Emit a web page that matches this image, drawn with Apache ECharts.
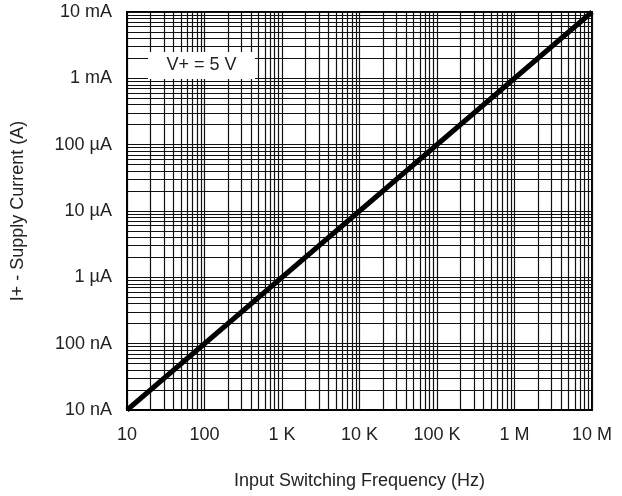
<!DOCTYPE html>
<html lang="en">
<head>
  <meta charset="utf-8">
  <title>Supply Current vs Input Switching Frequency</title>
  <style>html,body{margin:0;padding:0;background:#fff;}</style>
</head>
<body>

<script src="https://cdn.jsdelivr.net/npm/echarts@6.0.0/dist/echarts.min.js"></script>

<div id="currentchart1" style="width:622px;height:496px;"></div>

<script>
  // data (log-log, straight line)
  var freqHz = [10, 10000000];
  var supplyA = [1e-8, 1e-2];

  var xTickLabels = ['10', '100', '1 K', '10 K', '100 K', '1 M', '10 M'];
  var yTickLabels = ['10 nA', '100 nA', '1 µA', '10 µA', '100 µA', '1 mA', '10 mA'];

  var xDecades = [10, 100, 1000, 10000, 100000, 1000000];
  var yDecades = [1e-8, 1e-7, 1e-6, 1e-5, 1e-4, 1e-3];
  var minorSteps = [2, 3, 4, 5, 6, 7, 8, 9];

  var fontName = "'Liberation Sans', Arial, sans-serif";
  var fontSz = 18;

  var xMin = freqHz[0], xMax = freqHz[freqHz.length - 1];
  var yMin = supplyA[0], yMax = supplyA[supplyA.length - 1];

  // minor grid lines (2..9 of each decade), drawn through the axes
  var gridLines = [];
  xDecades.forEach(function (d) {
    minorSteps.forEach(function (m) { gridLines.push({ coords: [[d * m, yMin], [d * m, yMax]] }); });
  });
  yDecades.forEach(function (d) {
    minorSteps.forEach(function (m) { gridLines.push({ coords: [[xMin, d * m], [xMax, d * m]] }); });
  });

  var currentchart1 = echarts.init(document.getElementById('currentchart1'));

  var option = {
    animation: false,
    grid: {
      left: 127,
      right: 30,
      top: 12,
      bottom: 86,
      show: true,
      borderColor: '#000',
      borderWidth: 2
    },
    xAxis: {
      type: 'log',
      logBase: 10,
      min: xMin,
      max: xMax,
      name: 'Input Switching Frequency (Hz)',
      nameLocation: 'middle',
      nameGap: 62,
      nameTextStyle: { fontFamily: fontName, fontSize: fontSz, color: '#222', verticalAlign: 'top' },
      axisLine: { lineStyle: { color: '#000', width: 2 } },
      axisTick: { show: false },
      axisLabel: {
        fontFamily: fontName, fontSize: fontSz, color: '#222', margin: 16,
        formatter: function (v) { return xTickLabels[Math.round(Math.log10(v)) - 1]; }
      },
      splitLine: { show: true, lineStyle: { color: '#111', width: 1.2 } }
    },
    yAxis: {
      type: 'log',
      logBase: 10,
      min: yMin,
      max: yMax,
      name: 'I+ - Supply Current (A)',
      nameLocation: 'middle',
      nameGap: 100,
      nameTextStyle: { fontFamily: fontName, fontSize: fontSz, color: '#222' },
      axisLine: { lineStyle: { color: '#000', width: 2 } },
      axisTick: { show: false },
      axisLabel: {
        fontFamily: fontName, fontSize: fontSz, color: '#222', margin: 15,
        formatter: function (v) { return yTickLabels[Math.round(Math.log10(v)) + 8]; }
      },
      splitLine: { show: true, lineStyle: { color: '#111', width: 1.2 } }
    },
    graphic: [
      {
        type: 'rect', z: 100, zlevel: 1,
        shape: { x: 148, y: 52, width: 107, height: 27 },
        style: { fill: '#fff' }
      },
      {
        type: 'text', z: 101, zlevel: 1, x: 201.5, y: 65.5,
        style: { text: 'V+ = 5 V', fontFamily: fontName, fontSize: fontSz, fill: '#222', align: 'center', verticalAlign: 'middle' }
      }
    ],
    series: [
      {
        name: 'grid',
        type: 'lines',
        coordinateSystem: 'cartesian2d',
        silent: true,
        z: 1,
        lineStyle: { color: '#111', width: 1.2, opacity: 1 },
        data: gridLines
      },
      {
        name: 'I+',
        type: 'line',
        z: 5,
        symbol: 'none',
        lineStyle: { color: '#000', width: 5 },
        data: freqHz.map(function (f, i) { return [f, supplyA[i]]; })
      }
    ]
  };

  currentchart1.setOption(option);
</script>

</body>
</html>
